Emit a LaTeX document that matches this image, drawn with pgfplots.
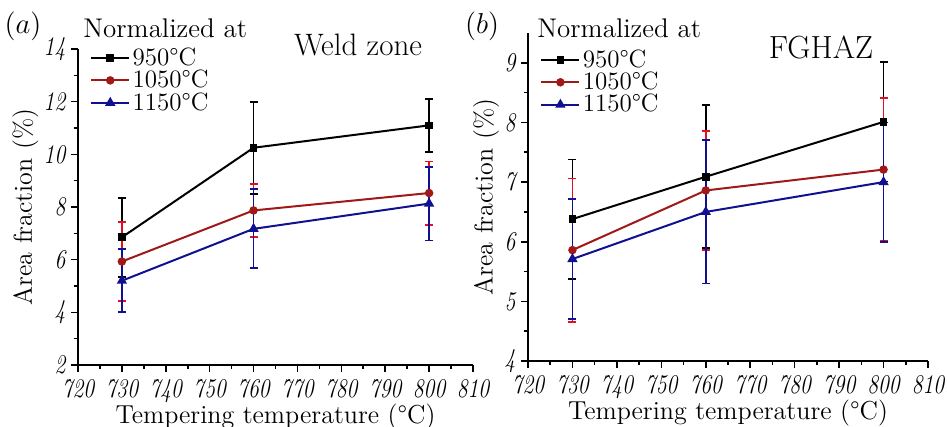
\documentclass[border=0pt]{standalone}
\usepackage{fontspec}
\usepackage{pgfplots}
\pgfplotsset{compat=1.18}
\definecolor{dred}{HTML}{A01818}
\definecolor{bred}{HTML}{E01020}
\definecolor{dblue}{HTML}{101090}
\pgfplotsset{
  panel/.style={
    scale only axis,
    anchor=south west,
    axis lines=left,
    axis line style={-, line width=0.9pt},
    enlargelimits=false,
    tick align=outside,
    major tick length=3.5pt,
    minor tick length=2pt,
    every tick/.style={black, line width=0.8pt},
    xmin=720, xmax=810,
    xtick={720,730,...,810},
    minor x tick num=1,
    minor y tick num=1,
    /pgf/number format/assume math mode=true,
    tick label style={font=\fontsize{13.5}{13.5}\selectfont\itshape, xscale=0.8},
    label style={font=\fontsize{13}{13}\selectfont},
    xlabel={Tempering temperature (°C)},
    ylabel={Area fraction (\%)},
    xlabel style={yshift=6pt},
    ylabel style={yshift=-3.5pt},
    legend style={draw=none, fill=none, font=\fontsize{12.5}{12.5}\selectfont,
      row sep=-1.5pt, inner sep=0pt, cells={anchor=west},
      nodes={inner sep=1.2pt}},
    legend image code/.code={\draw[#1, mark=none] (0pt,0pt) -- (19pt,0pt);
      \draw[#1] plot coordinates {(9.5pt,0pt)};},
  },
  ebar/.style={error bars/y dir=both, error bars/y explicit,
    error bars/error bar style={#1, line width=0.9pt},
    error bars/error mark options={rotate=90, mark size=2pt, line width=0.9pt, #1}},
  s950/.style={black, line width=1pt, mark=square*, mark size=1.4pt, ebar=black},
  s1050/.style={dred, line width=1pt, mark=*, mark size=1.6pt, ebar=bred},
  s1150/.style={dblue, line width=1pt, mark=triangle*, mark size=2pt, ebar=dblue},
}
\begin{document}
\begin{tikzpicture}
\path[use as bounding box] (0,0) rectangle (473.5pt,-213.5pt);
% Panel (a)
\begin{axis}[panel, at={(39pt,-182.5pt)},
  width=197.5pt, height=158pt,
  ymin=2, ymax=14, ytick={2,4,...,14},
  legend style={at={(0.03,1.013)}, anchor=north west}]
\addplot[s950] coordinates {
  (730,6.85) +- (0,1.5)
  (760,10.25) +- (0,1.75)
  (800,11.1) +- (0,1.0)
};
\addlegendentry{950°C}
\addplot[s1050] coordinates {
  (730,5.93) +- (0,1.5)
  (760,7.87) +- (0,1.0)
  (800,8.53) +- (0,1.2)
};
\addlegendentry{1050°C}
\addplot[s1150] coordinates {
  (730,5.2) +- (0,1.2)
  (760,7.17) +- (0,1.5)
  (800,8.13) +- (0,1.4)
};
\addlegendentry{1150°C}
\end{axis}
% Panel (b)
\begin{axis}[panel, at={(264pt,-180.5pt)},
  width=200pt, height=164pt,
  ymin=4, ymax=9.5, ytick={4,5,...,9},
  legend style={at={(0.03,0.958)}, anchor=north west}]
\addplot[s950] coordinates {
  (730,6.38) +- (0,1.0)
  (760,7.09) +- (0,1.2)
  (800,8.01) +- (0,1.0)
};
\addlegendentry{950°C}
\addplot[s1050] coordinates {
  (730,5.86) +- (0,1.2)
  (760,6.86) +- (0,1.0)
  (800,7.21) +- (0,1.2)
};
\addlegendentry{1050°C}
\addplot[s1150] coordinates {
  (730,5.71) +- (0,1.0)
  (760,6.5) +- (0,1.2)
  (800,7.0) +- (0,1.0)
};
\addlegendentry{1150°C}
\end{axis}
% annotations
\node[font=\fontsize{15.5}{15.5}\selectfont] at (11.5pt,-13pt) {$(a)$};
\node[font=\fontsize{15.5}{15.5}\selectfont] at (241pt,-13pt) {$(b)$};
\node[anchor=west, inner sep=0pt, font=\fontsize{13.5}{13.5}\selectfont] at (41.5pt,-14pt) {Normalized at};
\node[anchor=west, inner sep=0pt, font=\fontsize{13.5}{13.5}\selectfont] at (268.5pt,-14pt) {Normalized at};
\node[font=\fontsize{15.5}{15.5}\selectfont] at (179pt,-22.5pt) {Weld zone};
\node[font=\fontsize{16}{16}\selectfont] at (410.5pt,-23.5pt) {FGHAZ};
\end{tikzpicture}
\end{document}
